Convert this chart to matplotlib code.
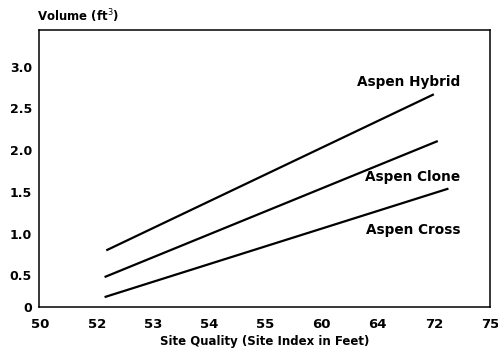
import matplotlib
matplotlib.use('Agg')
import matplotlib.pyplot as plt

# x axis is categorical (labels as printed on the scan)
x_labels = ['50', '52', '53', '54', '55', '60', '64', '72', '75']
x_pos = list(range(len(x_labels)))

# y ticks as printed, the lowest one "0" sits at the bottom of the frame
y_ticks = [0.12, 0.5, 1.0, 1.5, 2.0, 2.5, 3.0]
y_labels = ['0', '0.5', '1.0', '1.5', '2.0', '2.5', '3.0']

# line end points, x in category positions
hybrid_x = [1.17, 7.0]
hybrid_y = [0.80, 2.67]
clone_x = [1.14, 7.07]
clone_y = [0.48, 2.11]
cross_x = [1.14, 7.26]
cross_y = [0.24, 1.54]

# curve labels: (text, x, y)
curve_labels = [('Aspen Hybrid', 6.55, 2.82),
                ('Aspen Clone', 6.63, 1.68),
                ('Aspen Cross', 6.63, 1.04)]

plt.rcParams['font.family'] = ['DejaVu Sans']

fig = plt.figure(figsize=(4.98, 3.49), dpi=100)
ax = fig.add_axes([0.078, 0.12, 0.906, 0.794])

for xs, ys in [(hybrid_x, hybrid_y), (clone_x, clone_y), (cross_x, cross_y)]:
    ax.plot(xs, ys, color='black', linewidth=1.6, solid_capstyle='butt')

for txt, tx, ty in curve_labels:
    ax.text(tx, ty, txt, fontsize=9.8, fontweight='bold', ha='center', va='center')

ax.set_xlim(-0.03, 8.0)
ax.set_ylim(0.12, 3.44)
ax.set_xticks(x_pos)
ax.set_xticklabels(x_labels, fontsize=9.5, fontweight='bold')
ax.set_yticks(y_ticks)
ax.set_yticklabels(y_labels, fontsize=9, fontweight='bold')
ax.tick_params(axis='both', length=0)
ax.tick_params(axis='x', pad=8)
ax.tick_params(axis='y', pad=5)
for sp in ax.spines.values():
    sp.set_linewidth(1.1)

ax.set_xlabel('Site Quality (Site Index in Feet)', fontsize=8.5, fontweight='bold', labelpad=3)
fig.text(0.074, 0.955, 'Volume (ft$^{3}$)', fontsize=8.5, fontweight='bold', ha='left', va='center')

fig.savefig('out.png', dpi=100)
